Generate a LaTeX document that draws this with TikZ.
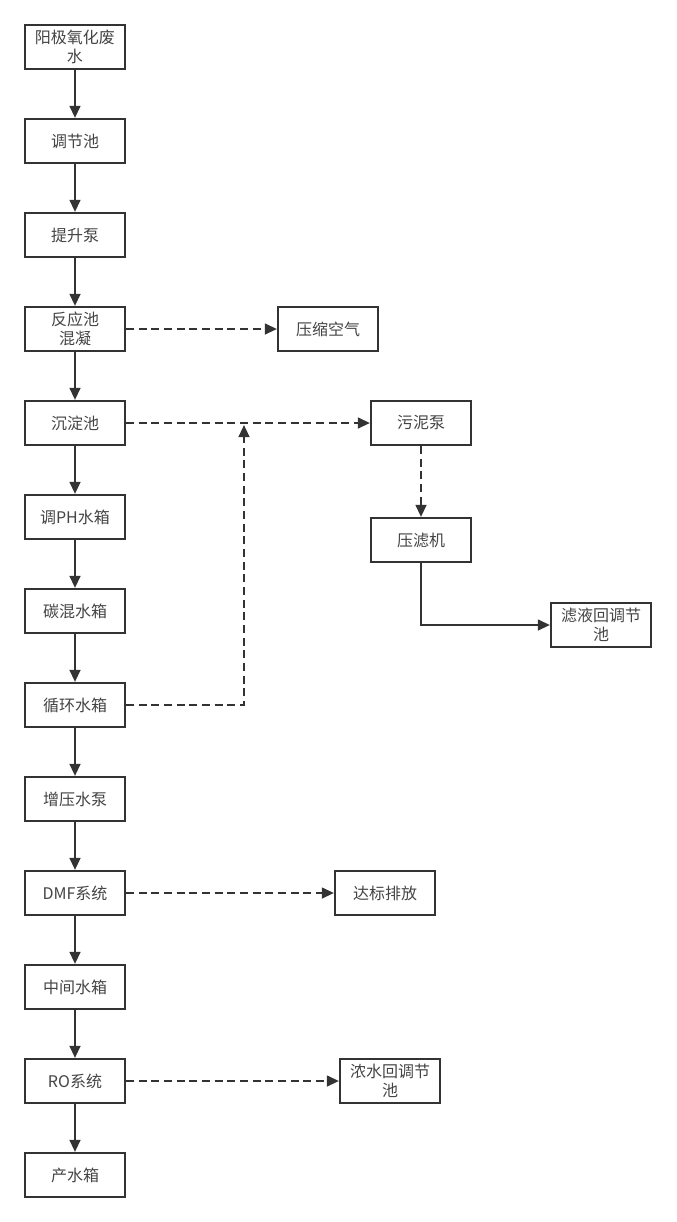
\documentclass[tikz,border=0pt]{standalone}
\usepackage{fontspec}
\setmainfont{Noto Sans CJK SC}
\usetikzlibrary{arrows.meta}
\definecolor{ln}{HTML}{333333}
\definecolor{tx}{HTML}{444444}
\tikzset{
  x=0.75pt, y=-0.75pt,
  box/.style={draw=ln, line width=1.6pt, rectangle, minimum width=75pt, minimum height=33pt,
    inner sep=2pt, align=center, text=tx, font=\fontsize{12pt}{14.5pt}\selectfont},
  flow/.style={draw=ln, line width=1.6pt, -{Triangle[length=9pt,width=8pt]}},
  dflow/.style={flow, dash pattern=on 6pt off 3.5pt},
}
\begin{document}
\begin{tikzpicture}
\useasboundingbox (0,0) rectangle (676,1222);
\node[box] (a1) at (75,47) {阳极氧化废\\水};
\node[box] (a2) at (75,141) {调节池};
\node[box] (a3) at (75,235) {提升泵};
\node[box] (a4) at (75,329) {反应池\\混凝};
\node[box] (a5) at (75,423) {沉淀池};
\node[box] (a6) at (75,517) {调PH水箱};
\node[box] (a7) at (75,611) {碳混水箱};
\node[box] (a8) at (75,705) {循环水箱};
\node[box] (a9) at (75,799) {增压水泵};
\node[box] (a10) at (75,893) {DMF系统};
\node[box] (a11) at (75,987) {中间水箱};
\node[box] (a12) at (75,1081) {RO系统};
\node[box] (a13) at (75,1175) {产水箱};
\node[box] (air) at (328,329) {压缩空气};
\node[box] (pump) at (421,423) {污泥泵};
\node[box] (press) at (421,540) {压滤机};
\node[box] (filt) at (601,625) {滤液回调节\\池};
\node[box] (dis) at (385,893) {达标排放};
\node[box] (conc) at (390,1081) {浓水回调节\\池};
\coordinate (j) at (244,425);
\foreach \i [evaluate=\i as \n using int(\i+1)] in {1,...,12}
  \draw[flow] (a\i) -- (a\n);
\draw[dflow] (a4) -- (air);
\draw[dflow] (a5) -- (pump);
\draw[dflow] (a8.east) -| (j);
\draw[dflow] (pump) -- (press);
\draw[flow] (press.south) |- (filt.west);
\draw[dflow] (a10) -- (dis);
\draw[dflow] (a12) -- (conc);
\end{tikzpicture}
\end{document}
